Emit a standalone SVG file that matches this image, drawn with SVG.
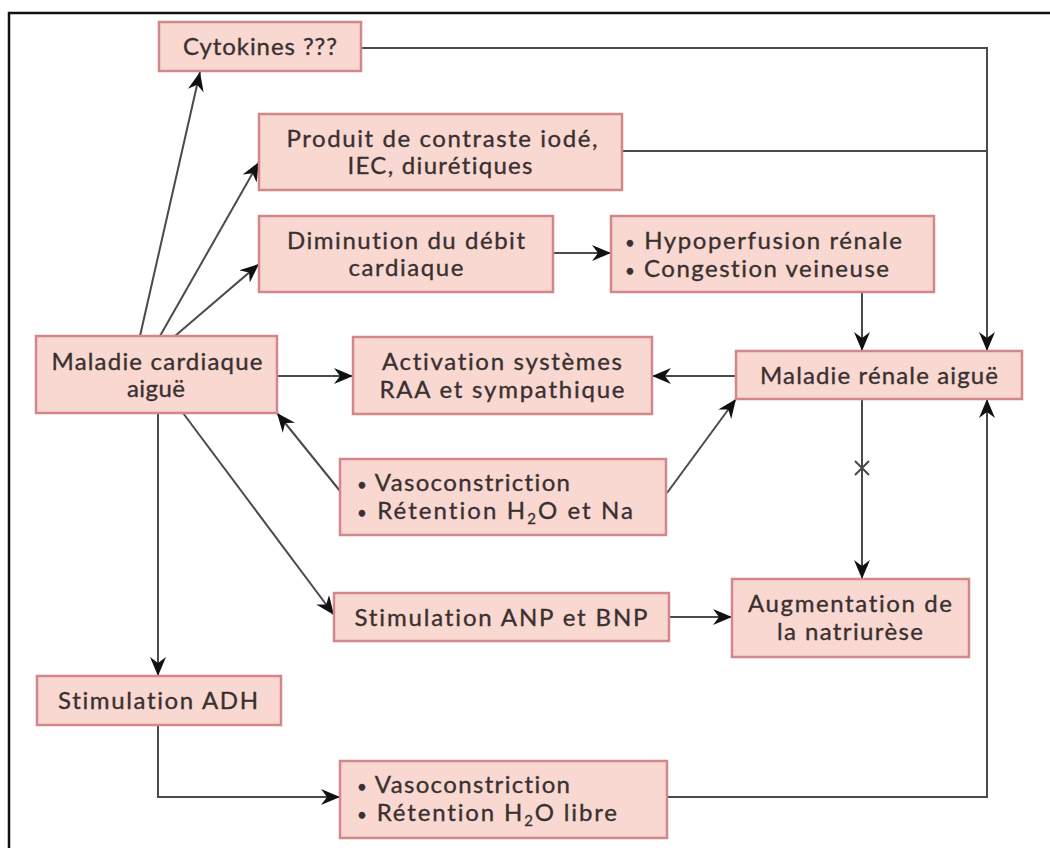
<svg xmlns="http://www.w3.org/2000/svg" width="1050" height="848" viewBox="0 0 1050 848">
<style>
.box{fill:#f8d8d0;stroke:#d4878a;stroke-width:2.5}
.t{font-family:Lato,"Open Sans","Liberation Sans",sans-serif;font-size:24px;fill:#3a3030;stroke:#3a3030;stroke-width:0.35;font-variant-ligatures:none;font-feature-settings:"liga" 0}
.c{text-anchor:middle}
.b{font-size:17px}
.ln{fill:none;stroke:#4a4a4a;stroke-width:2}
.ar{marker-end:url(#ah)}
</style>
<defs>
<marker id="ah" markerUnits="userSpaceOnUse" markerWidth="20" markerHeight="16" refX="19" refY="8" orient="auto">
<path d="M0,0 L19,8 L0,16 L6,8 Z" fill="#111"/>
</marker>
</defs>
<rect x="0" y="0" width="1050" height="848" fill="#fff"/>
<path d="M9,848 V13 H1050" fill="none" stroke="#111" stroke-width="2.5"/>
<g id="connectors">
<path class="ln ar" d="M361,48 H987 V351"/>
<path class="ln" d="M622,151 H987"/>
<path class="ln ar" d="M553,253 H611"/>
<path class="ln ar" d="M862,292 V351"/>
<path class="ln ar" d="M140,336 L200,72"/>
<path class="ln ar" d="M160,336 L259,162"/>
<path class="ln ar" d="M175,336 L259,264"/>
<path class="ln ar" d="M277,376 H353"/>
<path class="ln ar" d="M736,376 H652"/>
<path class="ln ar" d="M340,491 L277,413"/>
<path class="ln ar" d="M667,493 L736,399"/>
<path class="ln ar" d="M183,413 L334,615"/>
<path class="ln ar" d="M158,413 V676"/>
<path class="ln ar" d="M862,399 V579"/>
<path class="ln ar" d="M669,617 H732"/>
<path class="ln ar" d="M158,725 V797 H340"/>
<path class="ln ar" d="M667,797 H987 V399"/>
<path class="ln" d="M855,461 L869,475 M869,461 L855,475"/>
</g>
<g id="cytokines">
<rect class="box" x="159" y="22" width="202" height="49"/>
<text class="t c" x="260" y="55" textLength="154" lengthAdjust="spacing">Cytokines ???</text>
</g>
<g id="produit">
<rect class="box" x="259" y="114" width="363" height="76"/>
<text class="t c" x="442" y="147" textLength="311" lengthAdjust="spacing">Produit de contraste iodé,</text>
<text class="t c" x="440" y="174" textLength="185" lengthAdjust="spacing">IEC, diurétiques</text>
</g>
<g id="diminution">
<rect class="box" x="259" y="216" width="294" height="76"/>
<text class="t c" x="406" y="249" textLength="238" lengthAdjust="spacing">Diminution du débit</text>
<text class="t c" x="406" y="276" textLength="115" lengthAdjust="spacing">cardiaque</text>
</g>
<g id="hypoperfusion">
<rect class="box" x="611" y="216" width="323" height="76"/>
<text class="t" x="625" y="249" textLength="277" lengthAdjust="spacing"><tspan class="b">•</tspan> Hypoperfusion rénale</text>
<text class="t" x="625" y="277" textLength="264" lengthAdjust="spacing"><tspan class="b">•</tspan> Congestion veineuse</text>
</g>
<g id="maladie-cardiaque">
<rect class="box" x="36" y="336" width="241" height="77"/>
<text class="t c" x="157" y="370" textLength="211" lengthAdjust="spacing">Maladie cardiaque</text>
<text class="t c" x="156" y="397" textLength="58" lengthAdjust="spacing">aiguë</text>
</g>
<g id="activation">
<rect class="box" x="353" y="337" width="299" height="77"/>
<text class="t c" x="502" y="370" textLength="240" lengthAdjust="spacing">Activation systèmes</text>
<text class="t c" x="502" y="398" textLength="245" lengthAdjust="spacing">RAA et sympathique</text>
</g>
<g id="maladie-renale">
<rect class="box" x="736" y="351" width="286" height="48"/>
<text class="t c" x="879" y="384" textLength="238" lengthAdjust="spacing">Maladie rénale aiguë</text>
</g>
<g id="vasoconstriction-na">
<rect class="box" x="340" y="459" width="326" height="76"/>
<text class="t" x="357" y="491" textLength="213" lengthAdjust="spacing"><tspan class="b">•</tspan> Vasoconstriction</text>
<text class="t" x="357" y="519" textLength="276" lengthAdjust="spacing"><tspan class="b">•</tspan> Rétention H<tspan font-size="15" dy="5">2</tspan><tspan dy="-5">O et Na</tspan></text>
</g>
<g id="anp-bnp">
<rect class="box" x="334" y="593" width="335" height="48"/>
<text class="t c" x="501" y="626" textLength="293" lengthAdjust="spacing">Stimulation ANP et BNP</text>
</g>
<g id="natriurese">
<rect class="box" x="732" y="579" width="237" height="78"/>
<text class="t c" x="850" y="612" textLength="204" lengthAdjust="spacing">Augmentation de</text>
<text class="t c" x="850" y="640" textLength="146" lengthAdjust="spacing">la natriurèse</text>
</g>
<g id="adh">
<rect class="box" x="37" y="676" width="244" height="49"/>
<text class="t c" x="158" y="709" textLength="200" lengthAdjust="spacing">Stimulation ADH</text>
</g>
<g id="vasoconstriction-libre">
<rect class="box" x="340" y="761" width="327" height="77"/>
<text class="t" x="357" y="793" textLength="213" lengthAdjust="spacing"><tspan class="b">•</tspan> Vasoconstriction</text>
<text class="t" x="357" y="821" textLength="260" lengthAdjust="spacing"><tspan class="b">•</tspan> Rétention H<tspan font-size="15" dy="5">2</tspan><tspan dy="-5">O libre</tspan></text>
</g>
</svg>
